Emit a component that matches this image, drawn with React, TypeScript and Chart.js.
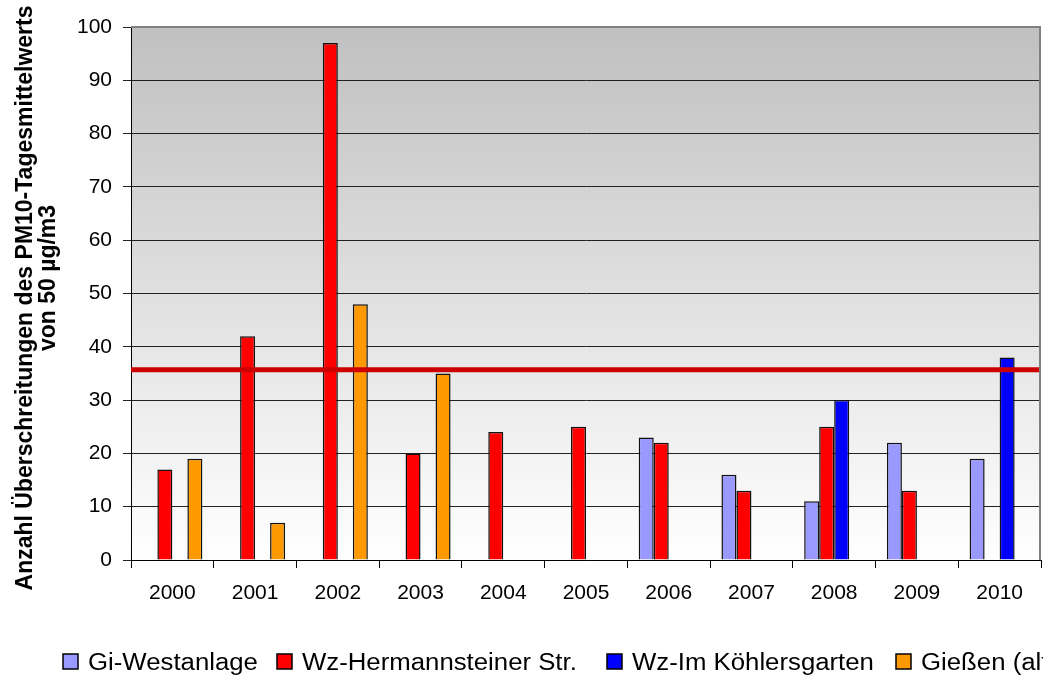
import React, { useEffect, useRef } from 'react';
import { Chart, registerables } from 'chart.js';

Chart.register(...registerables);

const years = ['2000', '2001', '2002', '2003', '2004', '2005', '2006', '2007', '2008', '2009', '2010'];
const giWestanlage = [null, null, null, null, null, null, 23, 16, 11, 22, 19];
const wzHermannsteiner = [17, 42, 97, 20, 24, 25, 22, 13, 25, 13, null];
const wzKoehlersgarten = [null, null, null, null, null, null, null, null, 30, null, 38];
const giessenAlt = [19, 7, 48, 35, null, null, null, null, null, null, null];
const seriesLabels = ['Gi-Westanlage', 'Wz-Hermannsteiner Str.', 'Wz-Im Köhlersgarten', 'Gießen (alt)'];
const seriesColors = ['#9999FF', '#FF0000', '#0000FF', '#FF9900'];
const threshold = 35.7;
const yTicksMin = 0;
const yTicksMax = 100;
const yTicksStep = 10;
const yTitleLines = ['Anzahl Überschreitungen des PM10-Tagesmittelwerts', 'von 50 µg/m3'];

const FONT = '"Liberation Sans", Arial, sans-serif';
const legendX = [63, 277, 607, 896];

export default function App() {
  const ref = useRef<HTMLCanvasElement | null>(null);

  useEffect(() => {
    const canvas = ref.current;
    if (!canvas) return;

    const decor = {
      id: 'decor',
      beforeDraw(chart: any) {
        const { ctx, chartArea } = chart;
        const g = ctx.createLinearGradient(0, chartArea.top, 0, chartArea.bottom);
        g.addColorStop(0, '#C0C0C0');
        g.addColorStop(1, '#FFFFFF');
        ctx.save();
        ctx.fillStyle = g;
        ctx.fillRect(chartArea.left, chartArea.top, chartArea.right - chartArea.left, chartArea.bottom - chartArea.top);
        ctx.restore();
      },
      afterDatasetsDraw(chart: any) {
        const { ctx, chartArea, scales } = chart;
        const y = scales.y.getPixelForValue(threshold);
        ctx.save();
        ctx.strokeStyle = '#CC0000';
        ctx.lineWidth = 5;
        ctx.beginPath();
        ctx.moveTo(chartArea.left, y);
        ctx.lineTo(chartArea.right, y);
        ctx.stroke();
        ctx.restore();
      },
      afterDraw(chart: any) {
        const { ctx, chartArea } = chart;
        ctx.save();
        // plot border top & right
        ctx.strokeStyle = '#808080';
        ctx.lineWidth = 2;
        ctx.beginPath();
        ctx.moveTo(chartArea.left, chartArea.top);
        ctx.lineTo(chartArea.right - 1, chartArea.top);
        ctx.lineTo(chartArea.right - 1, chartArea.bottom);
        ctx.stroke();

        // y-axis title
        ctx.fillStyle = '#000';
        ctx.font = 'bold 23px ' + FONT;
        ctx.textAlign = 'center';
        ctx.textBaseline = 'alphabetic';
        ctx.save();
        ctx.translate(32, 298);
        ctx.rotate(-Math.PI / 2);
        ctx.fillText(yTitleLines[0], 0, 0);
        ctx.restore();
        ctx.save();
        ctx.translate(55, 278);
        ctx.rotate(-Math.PI / 2);
        ctx.fillText(yTitleLines[1], 0, 0);
        ctx.restore();

        // legend
        ctx.font = '23px ' + FONT;
        ctx.textAlign = 'left';
        ctx.textBaseline = 'alphabetic';
        chart.data.datasets.forEach((ds: any, i: number) => {
          const x = legendX[i];
          ctx.fillStyle = ds.backgroundColor;
          ctx.fillRect(x, 654, 15, 15);
          ctx.strokeStyle = '#000';
          ctx.lineWidth = 1.5;
          ctx.strokeRect(x, 654, 15, 15);
          ctx.save();
          ctx.translate(x + 25, 670);
          ctx.scale(1.12, 1);
          ctx.fillStyle = '#000';
          ctx.fillText(ds.label, 0, 0);
          ctx.restore();
        });
        ctx.restore();
      },
    };

    const datasets = [giWestanlage, wzHermannsteiner, wzKoehlersgarten, giessenAlt].map((d, i) => ({
      label: seriesLabels[i],
      data: d,
      backgroundColor: seriesColors[i],
      borderColor: '#111',
      borderWidth: 1.5,
      categoryPercentage: 0.7255,
      barPercentage: 1,
    }));

    const chart = new Chart(canvas, {
      type: 'bar',
      data: { labels: years, datasets },
      options: {
        responsive: false,
        animation: false,
        devicePixelRatio: 1,
        layout: { padding: { left: 0, top: 27, right: 2, bottom: 0 } },
        plugins: {
          legend: { display: false },
          title: { display: false },
          tooltip: { enabled: false },
        },
        scales: {
          x: {
            offset: true,
            grid: { display: true, drawOnChartArea: false, drawTicks: true, tickLength: 8, color: '#000', offset: true },
            border: { display: true, color: '#000', width: 1 },
            ticks: { color: '#000', font: { family: FONT, size: 21 }, padding: 13, maxRotation: 0, autoSkip: false },
            afterFit(scale: any) { scale.height = 117; },
          },
          y: {
            min: yTicksMin,
            max: yTicksMax,
            grid: { color: '#222', lineWidth: 1, tickLength: 8, drawTicks: true },
            border: { display: true, color: '#000', width: 1 },
            ticks: { stepSize: yTicksStep, color: '#000', font: { family: FONT, size: 21 }, padding: 11 },
            afterFit(scale: any) { scale.width = 131; },
          },
        },
      },
      plugins: [decor],
    } as any);

    return () => chart.destroy();
  }, []);

  return (
    <div style={{ position: 'fixed', left: 0, top: 0, width: 1043, height: 677, background: '#fff' }}>
      <canvas ref={ref} width={1043} height={677} style={{ display: 'block', width: 1043, height: 677 }} />
    </div>
  );
}
